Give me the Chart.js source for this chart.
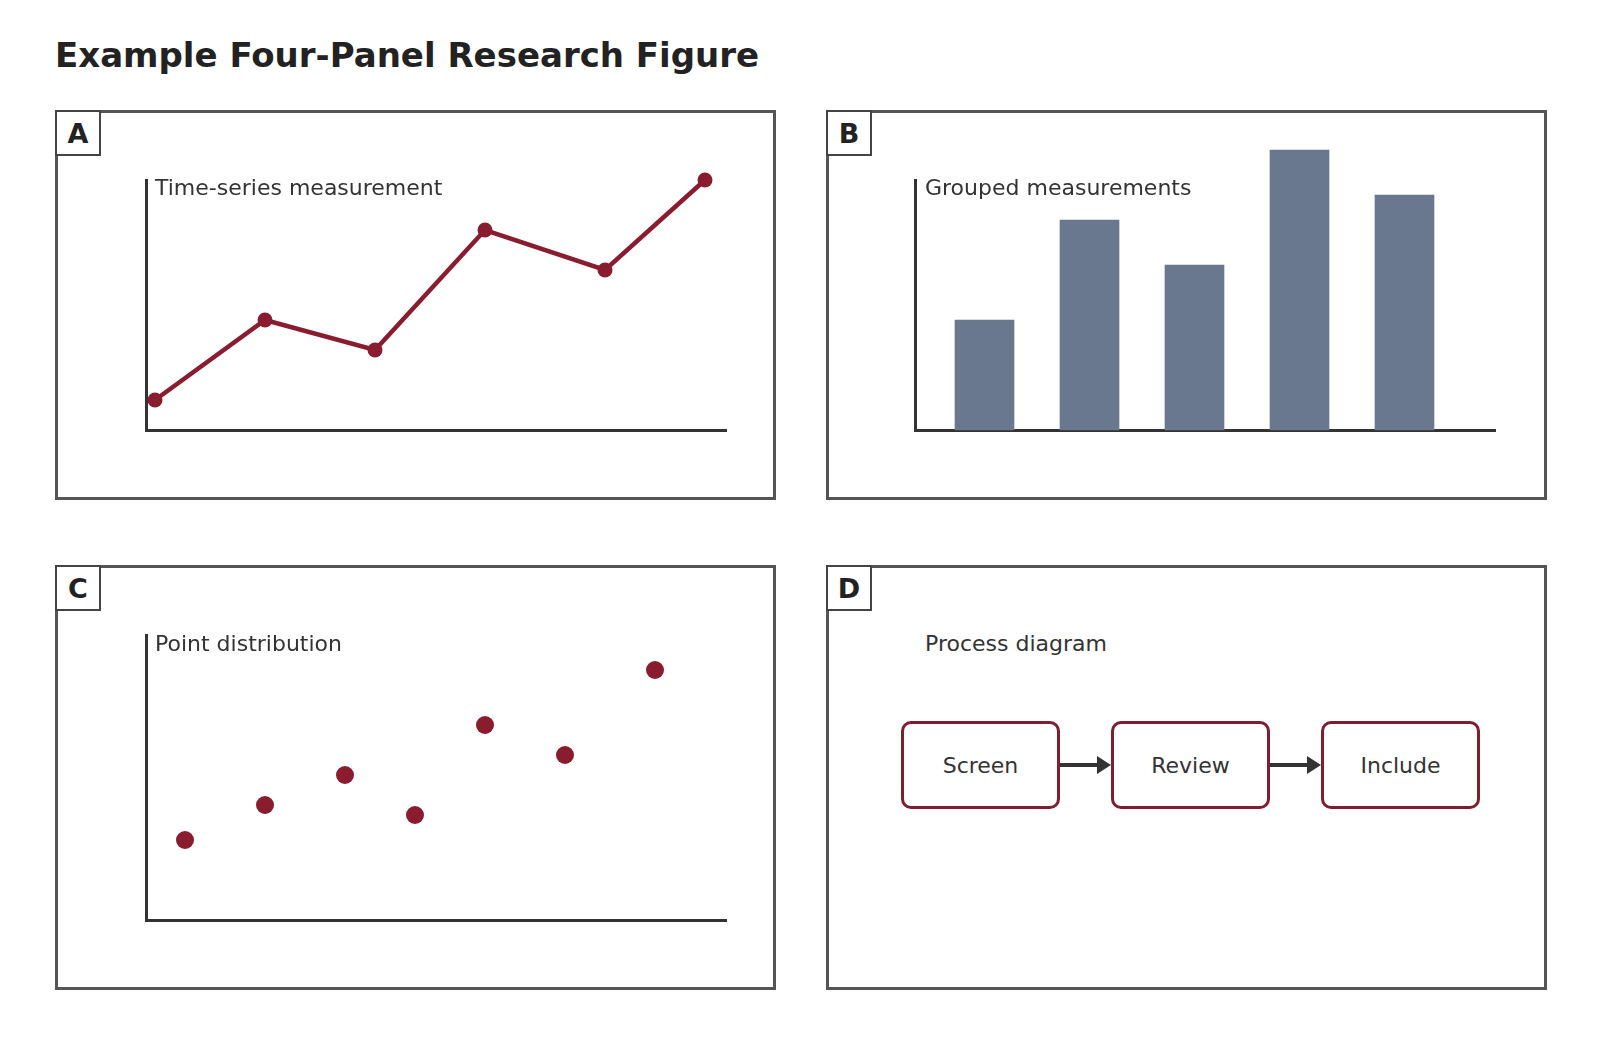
<!DOCTYPE html>
<html>
<head>
<meta charset="utf-8">
<title>Example Four-Panel Research Figure</title>
<script src="https://cdn.jsdelivr.net/npm/chart.js@4.4.1/dist/chart.umd.min.js"></script>
<style>
  body { margin: 0; background: #fff; font-family: "DejaVu Sans", sans-serif; color: #333; }
  #page { position: relative; width: 1600px; height: 1050px; overflow: hidden; }
  h1 { position: absolute; left: 55px; top: 38px; margin: 0; font-size: 34px; line-height: 34px; font-weight: bold; color: #222; white-space: nowrap; }
  .panel { position: absolute; box-sizing: border-box; border: 3px solid #555; }
  .tag { position: absolute; box-sizing: border-box; width: 46px; height: 46px; border: 2px solid #444; background: #fff;
         font-weight: bold; font-size: 27px; color: #222; display: flex; align-items: center; justify-content: center; }
  .sub { position: absolute; font-size: 22px; line-height: 22px; color: #333; white-space: nowrap; }
  canvas { position: absolute; }
  #flow { position: absolute; left: 901px; top: 721px; display: flex; align-items: center; }
  .step { box-sizing: border-box; width: 159px; height: 88px; border: 3px solid #7e1f2f; border-radius: 10px;
          display: flex; align-items: center; justify-content: center; font-size: 22px; color: #333; }
  .arrow { width: 51px; height: 18px; display: flex; align-items: center; }
  .arrow .shaft { width: 37px; height: 3.5px; background: #333; }
  .arrow .head { width: 0; height: 0; border-left: 14px solid #333; border-top: 9px solid transparent; border-bottom: 9px solid transparent; }
</style>
</head>
<body>
<div id="page">
  <h1>Example Four-Panel Research Figure</h1>

  <div class="panel" style="left:55px; top:110px; width:721px; height:390px;"></div>
  <div class="panel" style="left:826px; top:110px; width:721px; height:390px;"></div>
  <div class="panel" style="left:55px; top:565px; width:721px; height:425px;"></div>
  <div class="panel" style="left:826px; top:565px; width:721px; height:425px;"></div>

  <div class="tag" style="left:55px; top:110px;">A</div>
  <div class="tag" style="left:826px; top:110px;">B</div>
  <div class="tag" style="left:55px; top:565px;">C</div>
  <div class="tag" style="left:826px; top:565px;">D</div>

  <canvas id="chartA" width="719" height="388" style="left:56px; top:111px;"></canvas>
  <canvas id="chartB" width="718" height="388" style="left:827px; top:111px;"></canvas>
  <canvas id="chartC" width="719" height="423" style="left:56px; top:566px;"></canvas>

  <div class="sub" style="left:155px; top:177px;">Time-series measurement</div>
  <div class="sub" style="left:925px; top:177px;">Grouped measurements</div>
  <div class="sub" style="left:155px; top:633px;">Point distribution</div>
  <div class="sub" style="left:925px; top:633px;">Process diagram</div>

  <div id="flow"></div>
</div>

<script>
// panel A - time series
const timeX = [1, 12, 23, 34, 46, 56];
const timeY = [3, 11, 8, 20, 16, 25];

// panel B - grouped bars
const groupLabels = ["G1", "G2", "G3", "G4", "G5"];
const groupValues = [11, 21, 16.5, 28, 23.5];

// panel C - scatter
const pointX = [4, 12, 20, 27, 34, 42, 51];
const pointY = [8, 11.5, 14.5, 10.5, 19.5, 16.5, 25];

// panel D - process steps
const steps = ["Screen", "Review", "Include"];

const MAROON = "#8a1c30";
const BAR = "#6a788f";

function axis(horizontal, min, max) {
    return {
        type: "linear",
        min: min,
        max: max,
        offset: false,
        grid: { display: false, drawTicks: false, offset: false },
        ticks: { display: false },
        border: { display: true, color: "#333", width: 3 },
        afterFit: s => { if (horizontal) s.height = 0; else s.width = 0; }
    };
}

function baseOptions(pad, xr, yr) {
    return {
        responsive: false,
        animation: false,
        devicePixelRatio: 1,
        layout: { padding: pad, autoPadding: false },
        plugins: { legend: { display: false }, tooltip: { enabled: true } },
        scales: {
            x: axis(true, xr[0], xr[1]),
            y: axis(false, yr[0], yr[1])
        }
    };
}

// * A *
new Chart(document.getElementById("chartA"), {
    type: "line",
    data: {
        datasets: [{
            label: "Time-series measurement",
            data: timeX.map((x, i) => ({ x: x, y: timeY[i] })),
            borderColor: MAROON,
            backgroundColor: MAROON,
            borderWidth: 4.5,
            pointRadius: 7.5,
            pointBorderWidth: 0,
            tension: 0,
            clip: false
        }]
    },
    options: baseOptions({ left: 90, top: 69, right: 49, bottom: 69 }, [0.1, 58.1], [0, 25])
});

// * B *
new Chart(document.getElementById("chartB"), {
    type: "bar",
    data: {
        datasets: [{
            label: "Grouped measurements",
            data: groupValues.map((v, i) => ({ x: i + 1, y: v, name: groupLabels[i] })),
            backgroundColor: BAR,
            barThickness: 59,
            clip: false
        }]
    },
    options: baseOptions({ left: 88, top: 69, right: 50, bottom: 69 }, [0.338, 5.862], [0, 25])
});

// * C *
new Chart(document.getElementById("chartC"), {
    type: "scatter",
    data: {
        datasets: [{
            label: "Point distribution",
            data: pointX.map((x, i) => ({ x: x, y: pointY[i] })),
            backgroundColor: MAROON,
            borderWidth: 0,
            pointRadius: 9,
            clip: false
        }]
    },
    options: baseOptions({ left: 90, top: 69, right: 49, bottom: 69 }, [0.1, 58.1], [0, 28.5])
});

// * D - process boxes *
const flow = document.getElementById("flow");
steps.forEach((name, i) => {
    if (i > 0) {
        const a = document.createElement("div");
        a.className = "arrow";
        a.innerHTML = '<div class="shaft"></div><div class="head"></div>';
        flow.appendChild(a);
    }
    const box = document.createElement("div");
    box.className = "step";
    box.textContent = name;
    flow.appendChild(box);
});
</script>
</body>
</html>
